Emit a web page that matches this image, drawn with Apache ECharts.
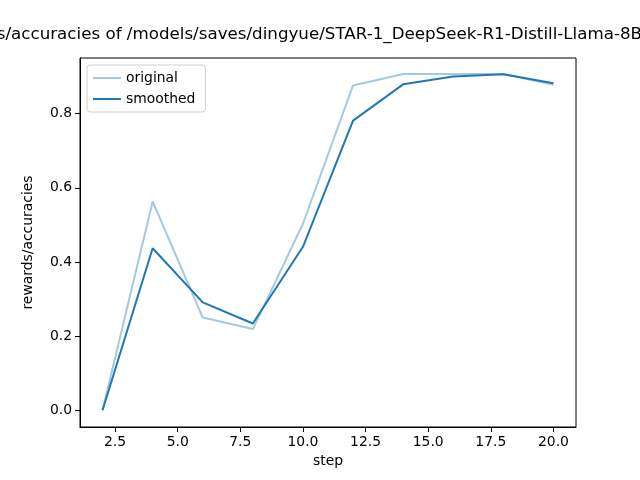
<!DOCTYPE html>
<html>
<head>
<meta charset="utf-8">
<script src="https://cdn.jsdelivr.net/npm/echarts@6/dist/echarts.min.js"></script>
<style>
  html, body { margin: 0; padding: 0; background: #fff; }
  #chart { width: 640px; height: 480px; }
</style>
</head>
<body>
<div id="chart"></div>
<script>
const steps = [2, 4, 6, 8, 10, 12, 14, 16, 18, 20];
const original = [0.0, 0.563, 0.25, 0.219, 0.503, 0.876, 0.907, 0.907, 0.907, 0.878];
const smoothed = [0.0, 0.437, 0.291, 0.234, 0.441, 0.781, 0.879, 0.9, 0.906, 0.882];
const xTicks = [2.5, 5.0, 7.5, 10.0, 12.5, 15.0, 17.5, 20.0];
const yTicks = [0.0, 0.2, 0.4, 0.6, 0.8];

const font = "DejaVu Sans";
const pair = (xs, ys) => xs.map((x, i) => [x, ys[i]]);

const chart = echarts.init(document.getElementById("chart"), null, { renderer: "canvas" });

chart.setOption({
  animation: false,
  backgroundColor: "#fff",
  title: {
    text: "rewards/accuracies of /models/saves/dingyue/STAR-1_DeepSeek-R1-Distill-Llama-8B_",
    left: -61,
    top: 26,
    padding: 0,
    textStyle: { fontFamily: font, fontSize: 16.7, fontWeight: "normal", color: "#000" },
  },
  legend: {
    orient: "vertical",
    left: 87,
    top: 65,
    padding: [6, 10, 6, 6],
    itemGap: 7,
    itemWidth: 28,
    itemHeight: 14,
    backgroundColor: "#fff",
    borderColor: "#d0d0d0",
    borderWidth: 1,
    borderRadius: 3,
    textStyle: { fontFamily: font, fontSize: 13.9, color: "#000" },
    data: [
      { name: "original", icon: "path://M0,6 L28,6 L28,8 L0,8 Z", itemStyle: { color: "rgba(31,119,180,0.4)" } },
      { name: "smoothed", icon: "path://M0,6 L28,6 L28,8 L0,8 Z", itemStyle: { color: "#1f77b4" } },
    ],
  },
  grid: {
    left: 80, right: 64, top: 58, bottom: 53,
    show: true, borderColor: "#000", borderWidth: 1,
  },
  xAxis: {
    type: "value",
    min: 1.1,
    max: 20.9,
    name: "step",
    nameLocation: "middle",
    nameGap: 27,
    nameTextStyle: { fontFamily: font, fontSize: 13.9, color: "#000" },
    axisLine: { show: true, onZero: false, lineStyle: { color: "#000", width: 1 } },
    axisTick: { show: true, length: 5, customValues: xTicks, lineStyle: { color: "#000" } },
    axisLabel: {
      customValues: xTicks,
      fontFamily: font, fontSize: 13.9, color: "#000", margin: 8,
      formatter: v => v.toFixed(1),
    },
    splitLine: { show: false },
  },
  yAxis: {
    type: "value",
    min: -0.045,
    max: 0.95,
    name: "rewards/accuracies",
    nameLocation: "middle",
    nameGap: 45,
    nameTextStyle: { fontFamily: font, fontSize: 13.9, color: "#000" },
    axisLine: { show: true, onZero: false, lineStyle: { color: "#000", width: 1 } },
    axisTick: { show: true, length: 5, customValues: yTicks, lineStyle: { color: "#000" } },
    axisLabel: {
      customValues: yTicks,
      fontFamily: font, fontSize: 13.9, color: "#000", margin: 8,
      formatter: v => v.toFixed(1),
    },
    splitLine: { show: false },
  },
  series: [
    {
      name: "original",
      type: "line",
      data: pair(steps, original),
      showSymbol: false,
      color: "rgba(31,119,180,0.4)",
      lineStyle: { width: 2, color: "rgba(31,119,180,0.4)" },
    },
    {
      name: "smoothed",
      type: "line",
      data: pair(steps, smoothed),
      showSymbol: false,
      color: "#1f77b4",
      lineStyle: { width: 2, color: "#1f77b4" },
    },
  ],
});
</script>
</body>
</html>
